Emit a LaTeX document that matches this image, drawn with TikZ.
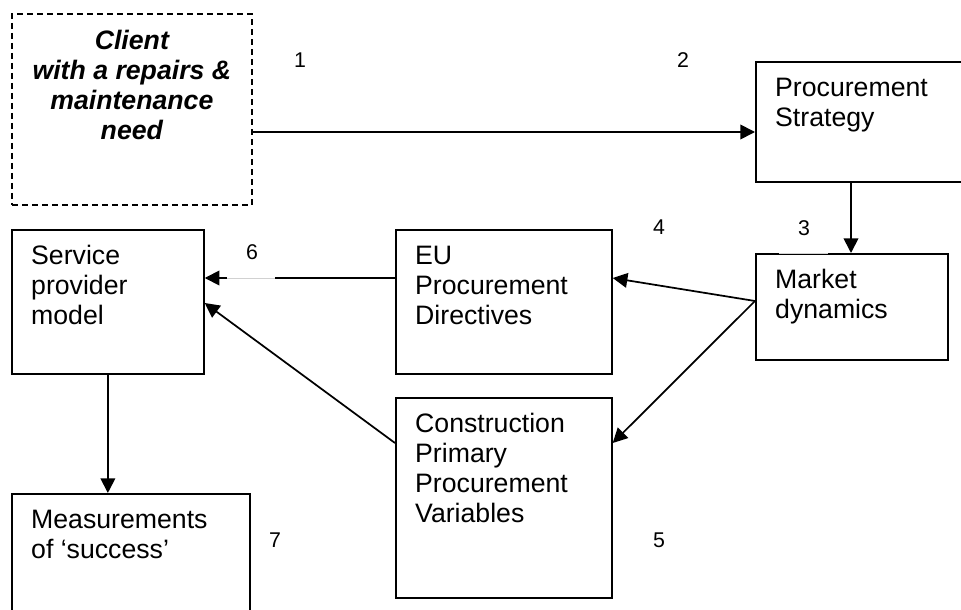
\documentclass[tikz,border=0pt]{standalone}
\usepackage{fontspec}
\setmainfont{Liberation Sans}
\usetikzlibrary{arrows.meta,calc}

% box text: top-left aligned, first baseline at a fixed distance from the top
\newcommand{\boxtext}[3]{\parbox[t][#2][t]{#1}{\raggedright\leftskip=14.5pt\rule{0pt}{26.25pt}#3}}

\begin{document}
\begin{tikzpicture}[x=0.75pt,y=-0.75pt,
  box/.style={draw, line width=1.3pt, inner sep=0pt, anchor=north west,
              font=\fontsize{20pt}{22.4pt}\selectfont},
  num/.style={inner sep=0pt, font=\fontsize{16pt}{18pt}\selectfont},
  arr/.style={line width=1.3pt, -{Triangle[length=11pt,width=11pt]}},
  gap/.style={draw=black!18, line width=0.6pt, preaction={draw=white, line width=2.2pt}}]
\useasboundingbox (0,0) rectangle (961,610);
\clip (0,0) rectangle (961,610);

% boxes
\node[box, dash pattern=on 4.5pt off 3pt] (client) at (11,13)
  {\parbox[t][143.25pt][t]{180pt}{\centering\bfseries\itshape\rule{0pt}{27pt}Client\\ with a repairs \&\\ maintenance\\ need}};
\node[box] (strat) at (755,61) {\boxtext{165pt}{90pt}{Procurement\\ Strategy}};
\node[box] (market) at (755,253) {\boxtext{144pt}{79.5pt}{Market\\ dynamics}};
\node[box] (eu) at (395,229) {\boxtext{162pt}{108pt}{EU\\ Procurement\\ Directives}};
\node[box] (service) at (11,229) {\boxtext{144pt}{108pt}{Service\\ provider\\ model}};
\node[box] (constr) at (395,397) {\boxtext{162pt}{150pt}{Construction\\ Primary\\ Procurement\\ Variables}};
\node[box] (meas) at (11,493) {\boxtext{178.5pt}{112.5pt}{Measurements\\ of ‘success’}};

% connectors
\draw[arr] ($(client.north east)+(0,119)$) -- ($(strat.north west)+(0,71)$);
\draw[arr] ($(strat.south west)+(96,0)$) -- ($(market.north west)+(96,0)$);
\coordinate (mk) at ($(market.north west)+(0,48)$);
\draw[arr] (mk) -- ($(eu.north east)+(0,49)$);
\draw[arr] (mk) -- ($(constr.north east)+(0,46)$);
\draw[arr] ($(eu.north west)+(0,49)$) -- ($(service.north east)+(0,49)$);
\draw[arr] ($(constr.north west)+(0,46)$) -- ($(service.north east)+(0,74)$);
\draw[arr] (service.south) -- (service.south |- meas.north);

% faint breaks in two lines
\coordinate (g6a) at (227,278);
\coordinate (g6b) at (275,278);
\draw[gap] (g6a) -- (g6b);
\coordinate (g3a) at (779,253);
\coordinate (g3b) at (828,253);
\draw[gap] (g3a) -- (g3b);

% step numbers
\node[num] (n1) at (300,60) {1};
\node[num] (n2) at (683,60) {2};
\node[num] (n3) at (804,228) {3};
\node[num] (n4) at (659,227) {4};
\node[num] (n5) at (659,540) {5};
\node[num] (n6) at (252,252) {6};
\node[num] (n7) at (275,540) {7};
\end{tikzpicture}
\end{document}
